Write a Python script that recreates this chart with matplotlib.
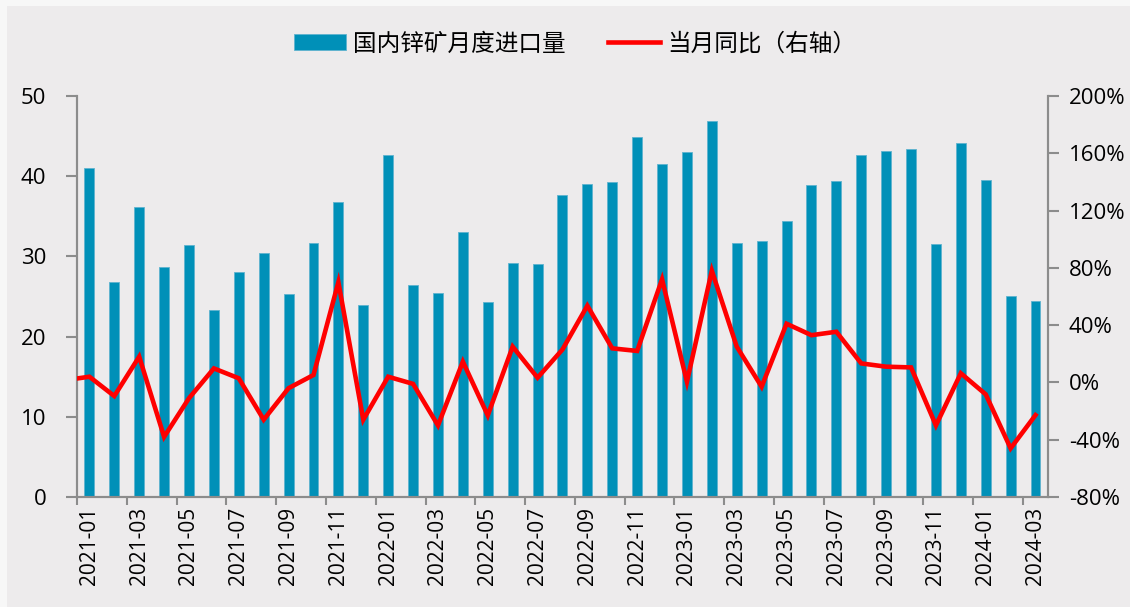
import matplotlib.pyplot as plt
from matplotlib.patches import Rectangle
import numpy as np

plt.rcParams['font.family'] = ['Open Sans', 'Noto Sans CJK SC', 'DejaVu Sans']

# months 2021-01 .. 2024-03
months = []
for yr in range(2021, 2025):
    for m in range(1, 13):
        months.append('%d-%02d' % (yr, m))
months = months[:39]

# 国内锌矿月度进口量 (万吨)
imports = [41.0, 26.8, 36.2, 28.7, 31.4, 23.3, 28.1, 30.4, 25.3, 31.7, 36.8, 23.9,
           42.6, 26.4, 25.4, 33.0, 24.3, 29.2, 29.0, 37.7, 39.0, 39.3, 44.9, 41.5,
           43.0, 46.9, 31.7, 31.9, 34.4, 38.9, 39.4, 42.7, 43.2, 43.4, 31.5, 44.2,
           39.5, 25.1, 24.4]

# 当月同比 (%), first value is 2020-12 (only the edge is visible)
yoy_dec2020 = 1.5
yoy = [4.0, -9.5, 18.0, -38.0, -11.0, 9.8, 2.9, -26.0, -4.0, 5.2, 70.0, -26.0,
       4.0, -1.0, -30.0, 14.5, -23.0, 25.0, 3.3, 23.0, 53.6, 23.8, 22.0, 72.0,
       0.5, 78.0, 25.0, -3.0, 41.0, 33.0, 35.4, 13.3, 11.0, 10.5, -30.0, 6.4,
       -8.3, -46.0, -22.8]

fig = plt.figure(figsize=(11.3, 6.07), dpi=100, facecolor='#F7F7F7')
fig.patches.append(Rectangle((0.006, 0), 0.994, 0.99, transform=fig.transFigure,
                             facecolor='#EDEBEC', edgecolor='none', zorder=-10))

ax = fig.add_axes([0.0681, 0.1812, 0.8593, 0.6606])
ax.set_facecolor('none')
ax2 = ax.twinx()

x = np.arange(len(months))
bars = ax.bar(x, imports, width=0.4, color='#0090B8', edgecolor='#5FB3CF',
              linewidth=0.6, label='国内锌矿月度进口量', zorder=2)

xl = np.arange(-1, len(months))
line, = ax2.plot(xl, [yoy_dec2020] + yoy, color='#FF0000', lw=3.3,
                 solid_joinstyle='miter', label='当月同比（右轴）', zorder=3)

ax.set_xlim(-0.5, len(months) - 0.5)
ax.set_ylim(0, 50)
ax2.set_ylim(-80, 200)

ax.set_yticks([0, 10, 20, 30, 40, 50])
ax2.set_yticks(range(-80, 201, 40))
ax2.set_yticklabels(['%d%%' % v for v in range(-80, 201, 40)])

# ticks at category boundaries, labels under the bars
ax.set_xticks(x[::2] - 0.5)
ax.set_xticklabels([])
ax.set_xticks(x[::2], minor=True)
ax.set_xticklabels(months[::2], minor=True, rotation=90, fontsize=15)
ax.tick_params(axis='x', which='minor', length=0, pad=7)
ax.tick_params(axis='x', which='major', length=6, width=1.5, color='#8C8C8C')

ax.tick_params(axis='y', length=8, width=1.5, color='#8C8C8C', labelsize=16, pad=14)
ax2.tick_params(axis='y', length=8, width=1.5, color='#8C8C8C', labelsize=16, pad=7)

for a in (ax, ax2):
    a.spines['top'].set_visible(False)
    for s in ('left', 'right', 'bottom'):
        a.spines[s].set_color('#8C8C8C')
        a.spines[s].set_linewidth(1.5)

leg = fig.legend([bars, line], ['国内锌矿月度进口量', '当月同比（右轴）'],
                 loc='center', bbox_to_anchor=(575 / 1130, 1 - 44 / 607), ncol=2,
                 frameon=False, handlelength=2.2, handleheight=0.65,
                 columnspacing=1.8, handletextpad=0.3,
                 prop={'family': ['Noto Sans CJK SC'], 'size': 17})

fig.savefig('out.png', dpi=100, facecolor=fig.get_facecolor())
